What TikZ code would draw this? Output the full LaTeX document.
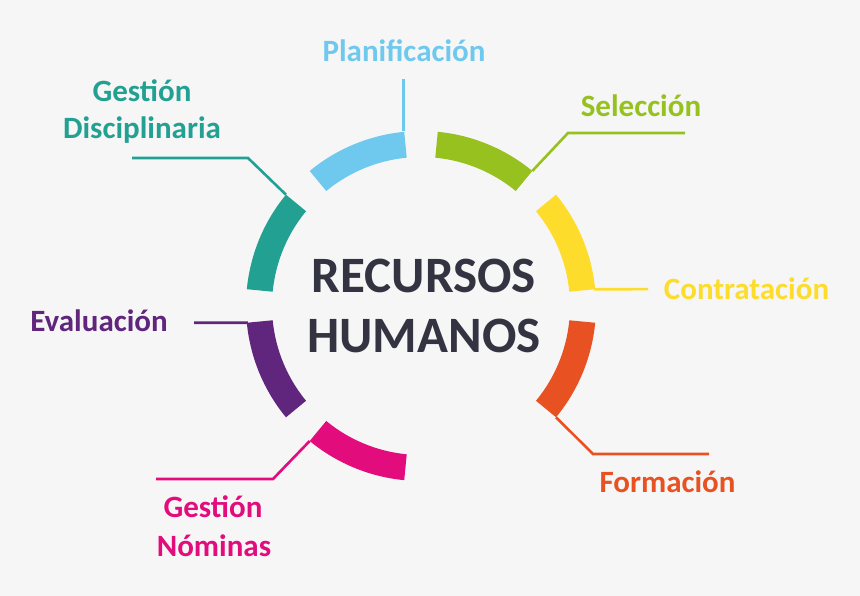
\documentclass[tikz,border=0pt]{standalone}
\usepackage{fontspec}
\setmainfont{Carlito}
\usetikzlibrary{calc}
\definecolor{bgc}{HTML}{F6F6F6}
\definecolor{cblue}{HTML}{6FC9EE}
\definecolor{cgreen}{HTML}{97C11F}
\definecolor{cyellow}{HTML}{FDDC2C}
\definecolor{corange}{HTML}{E85222}
\definecolor{cmagenta}{HTML}{E20C7C}
\definecolor{cpurple}{HTML}{60257D}
\definecolor{cteal}{HTML}{22A193}
\definecolor{cdark}{HTML}{343341}
\tikzset{
  lab/.style={inner sep=0pt, anchor=base, font=\fontsize{31}{37}\selectfont\bfseries},
  title/.style={inner sep=0pt, anchor=base, text=cdark, font=\fontsize{51}{60}\selectfont\bfseries},
  conn/.style={line width=2.6pt},
}
\newcommand{\ringseg}[3]{% color, start, end
  \fill[#1] ($(C)+(#2:175pt)$) arc[start angle=#2, end angle=#3, radius=175pt]
    -- ($(C)+(#3:149pt)$) arc[start angle=#3, end angle=#2, radius=149pt] -- cycle;}
\begin{document}
\begin{tikzpicture}[x=1pt,y=1pt]
\fill[bgc] (0,0) rectangle (860,596);
\useasboundingbox (0,0) rectangle (860,596);
\coordinate (C) at (421,290);
% ring segments
\ringseg{cteal}{140.5}{174.5}
\ringseg{cblue}{95.5}{129.5}
\ringseg{cgreen}{50.5}{84.5}
\ringseg{cyellow}{5.5}{39.5}
\ringseg{corange}{-39.5}{-5.5}
\ringseg{cmagenta}{230.5}{264.5}
\ringseg{cpurple}{185.5}{219.5}
% attachment corners
\coordinate (pT) at ($(C)+(140.5:175pt)$);
\coordinate (pB) at ($(C)+(95.5:175pt)+(-1,1)$);
\coordinate (pG) at ($(C)+(50.5:175pt)$);
\coordinate (pY) at ($(C)+(5.5:175pt)$);
\coordinate (pO) at ($(C)+(-39.5:175pt)$);
\coordinate (pM) at ($(C)+(230.5:175pt)$);
\coordinate (pP) at ($(C)+(185.5:175pt)$);
% title
\node[title] (t1) at (424,303) {RECURSOS};
\node[title] (t2) at (424,243) {HUMANOS};
% labels
\node[lab, text=cblue] (lPlan) at (404,534) {Planificación};
\node[lab, text=cgreen] (lSel) at (641,479) {Selección};
\node[lab, text=cyellow] (lCon) at (746.5,296) {Contratación};
\node[lab, text=corange] (lFor) at (667.5,103) {Formación};
\node[lab, text=cpurple] (lEva) at (99,264) {Evaluación};
\node[lab, text=cmagenta] (lGN1) at (213,78) {Gestión};
\node[lab, text=cmagenta] (lGN2) at (214,39) {Nóminas};
\node[lab, text=cteal] (lGD1) at (142,494) {Gestión};
\node[lab, text=cteal] (lGD2) at (142,457) {Disciplinaria};
% connector ends
\coordinate (ePlan) at (403,517);
\coordinate (kSel) at (568,463); \coordinate (eSel) at (685,463);
\coordinate (eCon) at (648,306.8);
\coordinate (kFor) at (593,142); \coordinate (eFor) at (709,142);
\coordinate (ePur) at (194,273.2);
\coordinate (kMag) at (273,117); \coordinate (eMag) at (156,117);
\coordinate (kTea) at (248,438); \coordinate (eTea) at (132,438);
% connectors
\draw[conn, cblue] (pB) -- (pB |- ePlan);
\draw[conn, cgreen] (pG) -- (kSel) -- (eSel);
\draw[conn, cyellow] ($(pY)+(-1,0)$) -- (eCon);
\draw[conn, corange] (pO) -- (kFor) -- (eFor);
\draw[conn, cpurple] ($(pP)+(1,0)$) -- (ePur);
\draw[conn, cmagenta] (pM) -- (kMag) -- (eMag);
\draw[conn, cteal] (pT) -- (kTea) -- (eTea);
\end{tikzpicture}
\end{document}
